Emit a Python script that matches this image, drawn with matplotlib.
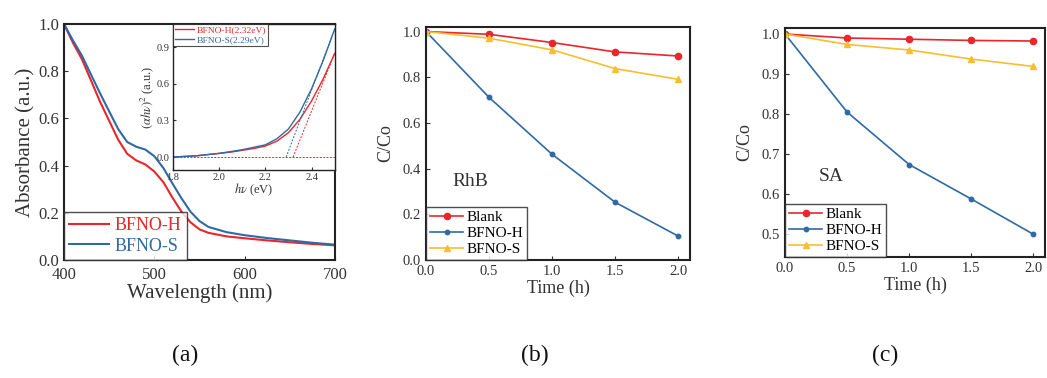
import matplotlib
matplotlib.use("Agg")
import matplotlib.pyplot as plt

plt.rcParams['font.family'] = ['Liberation Serif', 'DejaVu Serif']
plt.rcParams['mathtext.fontset'] = 'stix'

RED = '#e8262b'
BLUE = '#2f6aa3'
YELLOW = '#f6bf2e'
TXT = '#333333'

# (a) UV-vis absorbance
wavelength = [400, 410, 420, 430, 440, 450, 460, 470, 480, 490, 500, 510, 520, 530, 540,
              550, 560, 580, 600, 625, 650, 675, 700]
abs_h = [1.00, 0.92, 0.85, 0.76, 0.67, 0.59, 0.51, 0.45, 0.422, 0.405, 0.375, 0.33, 0.265,
         0.205, 0.16, 0.13, 0.115, 0.10, 0.092, 0.083, 0.075, 0.068, 0.062]
abs_s = [1.00, 0.93, 0.865, 0.785, 0.706, 0.63, 0.555, 0.50, 0.48, 0.468, 0.44, 0.39, 0.325,
         0.262, 0.205, 0.165, 0.14, 0.118, 0.105, 0.093, 0.083, 0.073, 0.065]

# inset Tauc plot
hv = [1.80, 1.85, 1.90, 1.95, 2.00, 2.05, 2.10, 2.15, 2.20, 2.25, 2.30, 2.35, 2.40, 2.45, 2.50]
tauc_h = [0.0, 0.005, 0.01, 0.02, 0.03, 0.04, 0.055, 0.07, 0.09, 0.13, 0.20, 0.31, 0.46, 0.64, 0.85]
tauc_s = [0.0, 0.005, 0.01, 0.02, 0.03, 0.045, 0.06, 0.08, 0.10, 0.15, 0.23, 0.37, 0.56, 0.79, 1.05]
fit_h = [(2.32, 0.0), (2.50, 0.85)]
fit_s = [(2.29, 0.0), (2.50, 1.05)]

# (b) RhB and (c) SA degradation
time_h = [0.0, 0.5, 1.0, 1.5, 2.0]
rhb_blank = [1.0, 0.988, 0.952, 0.911, 0.893]
rhb_h = [1.0, 0.712, 0.463, 0.253, 0.105]
rhb_s = [1.0, 0.971, 0.920, 0.838, 0.791]
sa_blank = [1.0, 0.990, 0.987, 0.984, 0.9825]
sa_h = [1.0, 0.805, 0.674, 0.588, 0.500]
sa_s = [1.0, 0.974, 0.960, 0.9375, 0.919]

fig = plt.figure(figsize=(10.47, 3.78), dpi=100)


def style(ax, fs=11):
    ax.tick_params(direction='in', labelsize=fs, colors=TXT, labelcolor=TXT, length=3)
    for s in ax.spines.values():
        s.set_linewidth(1.5)
        s.set_color('#222222')


# panel a
ax1 = fig.add_axes([0.0611, 0.3122, 0.2588, 0.6243])
ax1.plot(wavelength, abs_h, color=RED, lw=1.5, label='BFNO-H')
ax1.plot(wavelength, abs_s, color=BLUE, lw=1.5, label='BFNO-S')
ax1.set_xlim(400, 700)
ax1.set_ylim(0, 1.0)
ax1.set_xticks([400, 500, 600, 700])
ax1.set_yticks([0.0, 0.2, 0.4, 0.6, 0.8, 1.0])
style(ax1, 12)
ax1.tick_params(axis='x', pad=5)
ax1.set_xlabel('Wavelength (nm)', fontsize=15, color=TXT, labelpad=0)
ax1.set_ylabel('Absorbance (a.u.)', fontsize=15, color=TXT, labelpad=2)
leg = ax1.legend(loc='lower left', fontsize=13, borderaxespad=0, fancybox=False,
                 edgecolor='#222222', handlelength=2.2, handletextpad=0.3,
                 borderpad=0.3, labelspacing=0.2)
leg.get_frame().set_linewidth(1.0)
for t, c in zip(leg.get_texts(), [RED, BLUE]):
    t.set_color(c)

# inset
ins = fig.add_axes([0.165, 0.5503, 0.1547, 0.386])
ins.plot(hv, tauc_h, color=RED, lw=1.0, label='BFNO-H(2.32eV)')
ins.plot(hv, tauc_s, color=BLUE, lw=1.0, label='BFNO-S(2.29eV)')
ins.plot([p[0] for p in fit_h], [p[1] for p in fit_h], color=RED, lw=0.7, ls=(0, (2, 1.5)))
ins.plot([p[0] for p in fit_s], [p[1] for p in fit_s], color=BLUE, lw=0.7, ls=(0, (2, 1.5)))
ins.plot([1.8, 2.5], [0, 0], color=BLUE, lw=0.7, ls=(0, (2, 1.5)))
ins.set_xlim(1.8, 2.5)
ins.set_ylim(-0.106, 1.09)
ins.set_xticks([1.8, 2.0, 2.2, 2.4])
ins.set_yticks([0.0, 0.3, 0.6, 0.9])
ins.set_xlabel(r'$h\nu$ (eV)', fontsize=9, color=TXT, labelpad=0)
ins.set_ylabel(r'$(\alpha h\nu)^2$ (a.u.)', fontsize=9, color=TXT, labelpad=1)
ins.tick_params(direction='in', labelsize=7.5, colors=TXT, labelcolor=TXT, length=2, pad=2)
for s in ins.spines.values():
    s.set_linewidth(1.0)
    s.set_color('#222222')
ileg = ins.legend(loc='upper left', fontsize=6.8, borderaxespad=0, fancybox=False,
                  edgecolor='#222222', handlelength=2.0, handletextpad=0.3,
                  borderpad=0.2, labelspacing=0.1)
ileg.get_frame().set_linewidth(0.8)
for t, c in zip(ileg.get_texts(), [RED, BLUE]):
    t.set_color(c)


def deg_panel(rect, blank, h, s, ylim, yticks, name, name_xy):
    ax = fig.add_axes(rect)
    ax.plot(time_h, blank, color=RED, lw=1.2, marker='o', ms=4.5, label='Blank')
    ax.plot(time_h, h, color=BLUE, lw=1.2, marker='o', ms=3.2, label='BFNO-H')
    ax.plot(time_h, s, color=YELLOW, lw=1.2, marker='^', ms=4.5, label='BFNO-S')
    ax.set_xlim(0, 2.095)
    ax.set_ylim(*ylim)
    ax.set_xticks([0.0, 0.5, 1.0, 1.5, 2.0])
    ax.set_xticklabels(['%.1f' % v for v in [0.0, 0.5, 1.0, 1.5, 2.0]])
    ax.set_yticks(yticks)
    ax.set_yticklabels(['%.1f' % v for v in yticks])
    ax.set_xlabel('Time (h)', fontsize=13, color=TXT, labelpad=1)
    ax.set_ylabel('C/Co', fontsize=13, color=TXT, labelpad=6)
    style(ax, 10.5)
    lg = ax.legend(loc='lower left', fontsize=11, borderaxespad=0, fancybox=False,
                   edgecolor='#222222', handlelength=2.2, handletextpad=0.2,
                   borderpad=0.25, labelspacing=0.15)
    lg.get_frame().set_linewidth(1.0)
    ax.text(name_xy[0], name_xy[1], name, transform=ax.transAxes, fontsize=14, color=TXT,
            ha='left', va='center')
    return ax


deg_panel([0.4069, 0.3122, 0.2521, 0.6164], rhb_blank, rhb_h, rhb_s,
          (0, 1.02), [0.0, 0.2, 0.4, 0.6, 0.8, 1.0], 'RhB', (0.1, 0.335))
deg_panel([0.7498, 0.3201, 0.2483, 0.6058], sa_blank, sa_h, sa_s,
          (0.443, 1.015), [0.5, 0.6, 0.7, 0.8, 0.9, 1.0], 'SA', (0.13, 0.35))

for x, lab in [(0.177, '(a)'), (0.511, '(b)'), (0.845, '(c)')]:
    fig.text(x, 0.06, lab, fontsize=17, ha='center', va='center', color='#111111')

fig.savefig('out.png', dpi=100)
